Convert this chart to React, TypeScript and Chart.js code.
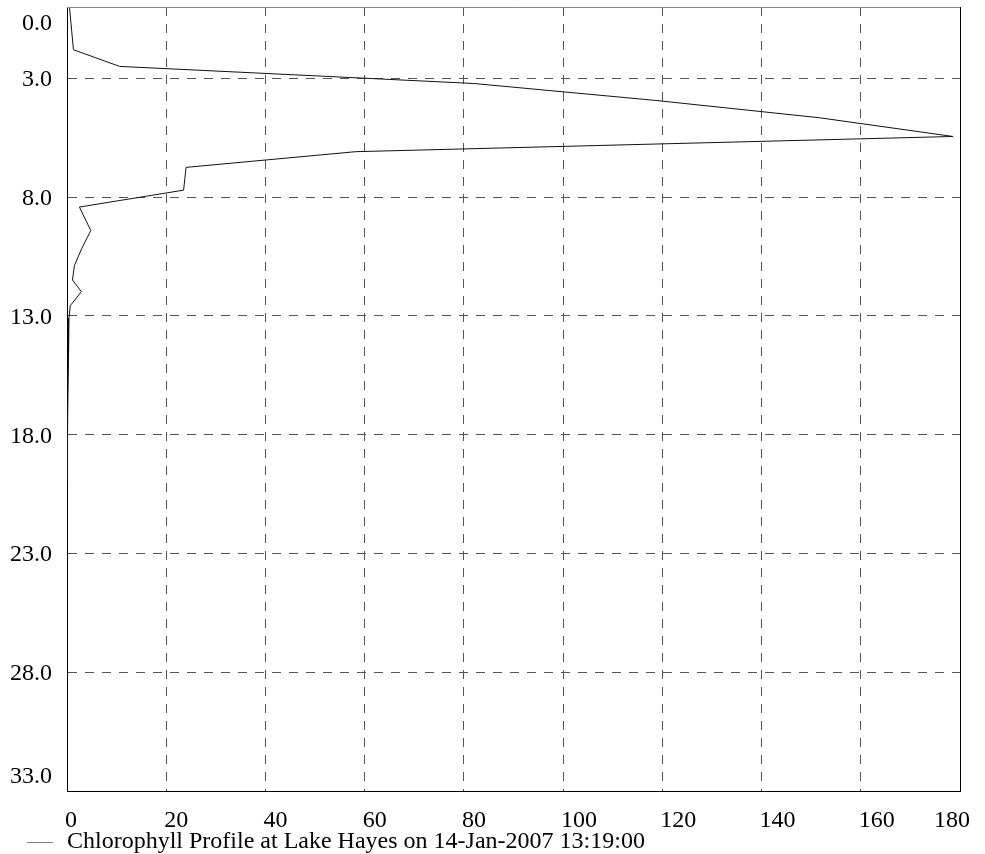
import React, { useEffect, useRef } from 'react';
import { Chart, registerables } from 'chart.js';

Chart.register(...registerables);

const seriesLabel = 'Chlorophyll Profile at Lake Hayes on 14-Jan-2007 13:19:00';
const depths = [0, 1.8, 2.5, 3.22, 3.93, 4.66, 5.45, 6.09, 6.75, 7.71, 8.42, 9.41, 10.15, 10.88, 11.49, 11.98, 12.57, 13.1, 15.0, 17.0, 18.5, 20.0];
const chlorophyll = [0.5, 1.3, 10.6, 82, 118.5, 151.6, 178.6, 58.2, 24.0, 23.5, 2.5, 4.8, 3.0, 1.5, 1.1, 2.9, 0.66, 0.4, 0.3, 0.15, 0.05, 0.0];
const xTicks = [0, 20, 40, 60, 80, 100, 120, 140, 160, 180];
const yTicks = [0, 3, 8, 13, 18, 23, 28, 33];

const FONT = '24px "Liberation Serif", "Times New Roman", serif';

const textPlugin = {
  id: 'customText',
  afterDraw(chart: any) {
    const { ctx, chartArea: a, scales } = chart;
    const x = scales.x;
    const y = scales.y;
    ctx.save();
    ctx.setLineDash([]);
    ctx.lineWidth = 1;
    ctx.strokeStyle = '#8a8a8a';
    const topY = Math.round(y.getPixelForValue(0) - 0.5) + 0.5;
    ctx.beginPath();
    ctx.moveTo(a.left, topY);
    ctx.lineTo(a.right, topY);
    ctx.stroke();
    ctx.strokeStyle = '#000';
    const rightX = Math.round(x.getPixelForValue(180) - 0.5) + 0.5;
    ctx.beginPath();
    ctx.moveTo(rightX, a.top);
    ctx.lineTo(rightX, a.bottom);
    ctx.stroke();

    ctx.font = FONT;
    ctx.fillStyle = '#000';
    ctx.textBaseline = 'alphabetic';
    ctx.textAlign = 'right';
    yTicks.forEach((v) => {
      const p = y.getPixelForValue(v);
      const c = Math.min(Math.max(p, a.top + 15), a.bottom - 16);
      ctx.fillText(v.toFixed(1), a.left - 15, c + 8);
    });

    ctx.textAlign = 'left';
    xTicks.forEach((v) => {
      const p = x.getPixelForValue(v);
      const t = String(v);
      const w = ctx.measureText(t).width;
      const left = Math.min(p - 2, a.right + 10 - w);
      ctx.fillText(t, left, a.bottom + 36);
    });

    // legend
    ctx.strokeStyle = '#808080';
    ctx.lineWidth = 1;
    ctx.beginPath();
    ctx.moveTo(27, a.bottom + 51.5);
    ctx.lineTo(53, a.bottom + 51.5);
    ctx.stroke();
    const label = chart.data.datasets[0].label;
    ctx.fillText(label, 67, a.bottom + 57);
    ctx.restore();
  },
};

export default function App() {
  const ref = useRef<HTMLCanvasElement | null>(null);
  useEffect(() => {
    if (!ref.current) return;
    const points = depths.map((d, i) => ({ x: chlorophyll[i], y: d }));
    const chart = new Chart(ref.current, {
      type: 'scatter',
      data: {
        datasets: [
          {
            label: seriesLabel,
            data: points,
            showLine: true,
            borderColor: '#111',
            borderWidth: 1,
            pointRadius: 0,
            tension: 0,
          },
        ],
      },
      options: {
        responsive: false,
        animation: false,
        layout: { padding: { left: 67, right: 25, top: 7, bottom: 63 } },
        plugins: {
          legend: { display: false },
          tooltip: { enabled: false },
        },
        scales: {
          x: {
            type: 'linear',
            min: 0,
            max: 180,
            afterBuildTicks: (s: any) => {
              s.ticks = xTicks.map((v) => ({ value: v }));
            },
            ticks: { display: false },
            grid: { color: '#555', lineWidth: 1, drawTicks: false },
            border: { display: true, color: '#000', width: 1, dash: [9, 8] },
          },
          y: {
            type: 'linear',
            reverse: true,
            min: 0,
            max: 33,
            afterBuildTicks: (s: any) => {
              s.ticks = yTicks.map((v) => ({ value: v }));
            },
            ticks: { display: false },
            grid: { color: '#555', lineWidth: 1, drawTicks: false },
            border: { display: true, color: '#000', width: 1, dash: [9, 8] },
          },
        },
      },
      plugins: [textPlugin],
    });
    return () => chart.destroy();
  }, []);
  return (
    <div style={{ position: 'absolute', left: 0, top: 0, width: 985, height: 854, background: '#fff' }}>
      <canvas ref={ref} width={985} height={854} style={{ display: 'block' }} />
    </div>
  );
}
